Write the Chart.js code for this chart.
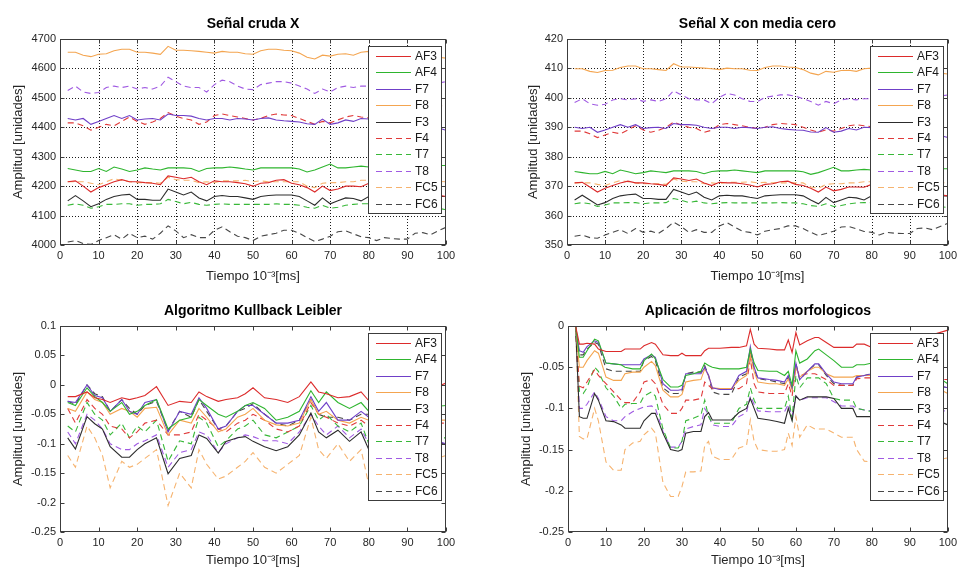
<!DOCTYPE html>
<html><head><meta charset="utf-8">
<script src="https://cdn.jsdelivr.net/npm/chart.js@4/dist/chart.umd.min.js"></script>
<style>
body{margin:0;background:#fff;width:961px;height:568px;position:relative;overflow:hidden}
canvas{position:absolute}
</style>
</head><body>
<canvas id="c1" width="480" height="284" style="left:0;top:0;width:480px;height:284px"></canvas>
<canvas id="c2" width="481" height="284" style="left:480px;top:0;width:481px;height:284px"></canvas>
<canvas id="c3" width="480" height="284" style="left:0;top:284px;width:480px;height:284px"></canvas>
<canvas id="c4" width="481" height="284" style="left:480px;top:284px;width:481px;height:284px"></canvas>
<script>
// ---------- categories / labels ----------
const channels = ['AF3','AF4','F7','F8','F3','F4','T7','T8','FC5','FC6'];
const titles = ['Señal cruda X','Señal X con media cero','Algoritmo Kullback Leibler','Aplicación de filtros morfologicos'];
const xTitle = 'Tiempo 10⁻³[ms]';
const yTitle = 'Amplitud [unidades]';
const xTicks = [0,10,20,30,40,50,60,70,80,90,100];
const yTicksRaw = [4000,4100,4200,4300,4400,4500,4600,4700];
const yTicksZero = [350,360,370,380,390,400,410,420];
const yTicksKL = [-0.25,-0.2,-0.15,-0.1,-0.05,0,0.05,0.1];
const yTicksMF = [-0.25,-0.2,-0.15,-0.1,-0.05,0];

// ---------- chart 1 : raw signal ----------
const xRaw = [2,4,6,8,10,12,14,16,18,20,22,24,26,28,30,32,34,36,38,40,42,44,46,48,50,52,54,56,58,60,62,64,66,68,70,72,74,76,78,80,82,84,86,88,90,92,94,96,98,100];
const rawAF3 = [4215,4218,4200,4180,4195,4205,4215,4222,4215,4215,4212,4210,4205,4235,4230,4225,4230,4215,4205,4218,4215,4215,4212,4208,4200,4210,4212,4220,4222,4210,4205,4195,4180,4200,4185,4190,4200,4200,4198,4210,4205,4200,4195,4190,4185,4180,4178,4175,4170,4165];
const rawAF4 = [4260,4255,4250,4250,4260,4250,4265,4258,4250,4255,4262,4258,4255,4262,4262,4262,4260,4250,4260,4262,4262,4265,4262,4258,4255,4262,4262,4262,4262,4262,4258,4248,4255,4265,4275,4262,4262,4265,4268,4265,4265,4265,4268,4268,4268,4270,4270,4270,4270,4270];
const rawF7 = [4430,4425,4430,4410,4420,4430,4440,4430,4440,4425,4428,4430,4425,4445,4440,4440,4438,4430,4425,4430,4430,4425,4430,4428,4425,4430,4432,4425,4422,4420,4418,4412,4410,4428,4410,4415,4425,4420,4430,4428,4428,4425,4425,4420,4420,4415,4410,4405,4398,4390];
const rawF8 = [4655,4655,4645,4640,4648,4650,4660,4665,4665,4655,4655,4652,4648,4675,4662,4662,4660,4658,4655,4652,4658,4655,4655,4650,4648,4660,4665,4665,4662,4660,4652,4638,4632,4645,4642,4648,4650,4645,4655,4658,4655,4650,4648,4652,4655,4650,4645,4640,4638,4635];
const rawF3 = [4150,4168,4150,4130,4140,4155,4165,4170,4172,4155,4155,4152,4152,4190,4180,4170,4180,4160,4150,4165,4168,4165,4165,4160,4155,4165,4168,4170,4170,4170,4165,4150,4135,4160,4140,4150,4160,4158,4150,4165,4165,4165,4165,4165,4165,4165,4165,4165,4165,4165];
const rawF4 = [4415,4415,4405,4390,4400,4410,4405,4420,4435,4420,4410,4418,4430,4450,4438,4430,4425,4410,4418,4440,4445,4440,4435,4430,4425,4430,4440,4445,4442,4440,4430,4420,4410,4420,4415,4425,4435,4440,4435,4432,4435,4440,4445,4450,4455,4460,4465,4470,4472,4475];
const rawT7 = [4135,4140,4135,4125,4130,4138,4138,4140,4140,4135,4138,4138,4140,4155,4148,4140,4145,4138,4135,4138,4140,4138,4138,4138,4138,4138,4138,4140,4138,4138,4135,4128,4125,4135,4125,4128,4135,4138,4140,4140,4140,4140,4138,4138,4135,4135,4132,4130,4125,4120];
const rawT8 = [4525,4540,4520,4515,4518,4535,4540,4535,4540,4530,4535,4530,4540,4570,4555,4540,4535,4535,4520,4545,4560,4555,4540,4530,4528,4545,4550,4555,4555,4550,4540,4530,4515,4530,4520,4535,4540,4535,4540,4540,4540,4535,4540,4545,4540,4535,4540,4545,4550,4555];
const rawFC5 = [4215,4215,4215,4210,4205,4215,4225,4220,4215,4212,4212,4212,4210,4230,4222,4220,4220,4212,4215,4212,4218,4218,4218,4220,4215,4218,4215,4215,4215,4215,4215,4200,4195,4210,4212,4212,4215,4215,4220,4220,4220,4218,4218,4218,4218,4218,4218,4216,4216,4215];
const rawFC6 = [4010,4015,4005,4002,4015,4025,4035,4020,4040,4025,4030,4020,4040,4065,4048,4025,4035,4025,4025,4050,4062,4045,4030,4025,4015,4030,4035,4040,4050,4050,4040,4025,4012,4020,4030,4045,4048,4038,4028,4025,4015,4025,4022,4020,4020,4040,4042,4035,4048,4060];

// ---------- chart 2 : zero mean ----------
const zmAF3 = [371.1,371.3,369.7,368.0,369.3,370.2,371.1,371.7,371.1,371.1,370.8,370.6,370.2,372.8,372.4,371.9,372.4,371.1,370.2,371.3,371.1,371.1,370.8,370.4,369.7,370.6,370.8,371.5,371.7,370.6,370.2,369.3,368.0,369.7,368.4,368.9,369.7,369.7,369.6,370.6,370.2,369.7,369.3,368.9,368.4,368.0,367.8,367.5,367.1,366.7];
const zmAF4 = [375.0,374.6,374.2,374.2,375.0,374.2,375.5,374.9,374.2,374.6,375.2,374.9,374.6,375.2,375.2,375.2,375.0,374.2,375.0,375.2,375.2,375.5,375.2,374.9,374.6,375.2,375.2,375.2,375.2,375.2,374.9,374.0,374.6,375.5,376.4,375.2,375.2,375.5,375.7,375.5,375.5,375.5,375.7,375.7,375.7,375.9,375.9,375.9,375.9,375.9];
const zmF7 = [390.0,389.6,390.0,388.3,389.1,390.0,390.9,390.0,390.9,389.6,389.9,390.0,389.6,391.3,390.9,390.9,390.7,390.0,389.6,390.0,390.0,389.6,390.0,389.9,389.6,390.0,390.2,389.6,389.3,389.1,389.0,388.4,388.3,389.9,388.3,388.7,389.6,389.1,390.0,389.9,389.9,389.6,389.6,389.1,389.1,388.7,388.3,387.8,387.2,386.5];
const zmF8 = [409.9,409.9,409.0,408.6,409.3,409.4,410.3,410.8,410.8,409.9,409.9,409.6,409.3,411.6,410.5,410.5,410.3,410.1,409.9,409.6,410.1,409.9,409.9,409.4,409.3,410.3,410.8,410.8,410.5,410.3,409.6,408.4,407.8,409.0,408.7,409.3,409.4,409.0,409.9,410.1,409.9,409.4,409.3,409.6,409.9,409.4,409.0,408.6,408.4,408.1];
const zmF3 = [365.3,366.9,365.3,363.6,364.4,365.8,366.7,367.1,367.3,365.8,365.8,365.5,365.5,368.9,368.0,367.1,368.0,366.2,365.3,366.7,366.9,366.7,366.7,366.2,365.8,366.7,366.9,367.1,367.1,367.1,366.7,365.3,364.0,366.2,364.4,365.3,366.2,366.0,365.3,366.7,366.7,366.7,366.7,366.7,366.7,366.7,366.7,366.7,366.7,366.7];
const zmF4 = [388.7,388.7,387.8,386.5,387.4,388.3,387.8,389.1,390.5,389.1,388.3,389.0,390.0,391.8,390.7,390.0,389.6,388.3,389.0,390.9,391.3,390.9,390.5,390.0,389.6,390.0,390.9,391.3,391.1,390.9,390.0,389.1,388.3,389.1,388.7,389.6,390.5,390.9,390.5,390.2,390.5,390.9,391.3,391.8,392.2,392.7,393.1,393.6,393.7,394.0];
const zmT7 = [364.0,364.4,364.0,363.1,363.6,364.3,364.3,364.4,364.4,364.0,364.3,364.3,364.4,365.8,365.2,364.4,364.9,364.3,364.0,364.3,364.4,364.3,364.3,364.3,364.3,364.3,364.3,364.4,364.3,364.3,364.0,363.4,363.1,364.0,363.1,363.4,364.0,364.3,364.4,364.4,364.4,364.4,364.3,364.3,364.0,364.0,363.7,363.6,363.1,362.7];
const zmT8 = [398.4,399.7,398.0,397.5,397.8,399.3,399.7,399.3,399.7,398.8,399.3,398.8,399.7,402.4,401.0,399.7,399.3,399.3,398.0,400.2,401.5,401.0,399.7,398.8,398.7,400.2,400.6,401.0,401.0,400.6,399.7,398.8,397.5,398.8,398.0,399.3,399.7,399.3,399.7,399.7,399.7,399.3,399.7,400.2,399.7,399.3,399.7,400.2,400.6,401.0];
const zmFC5 = [371.1,371.1,371.1,370.6,370.2,371.1,371.9,371.5,371.1,370.8,370.8,370.8,370.6,372.4,371.7,371.5,371.5,370.8,371.1,370.8,371.3,371.3,371.3,371.5,371.1,371.3,371.1,371.1,371.1,371.1,371.1,369.7,369.3,370.6,370.8,370.8,371.1,371.1,371.5,371.5,371.5,371.3,371.3,371.3,371.3,371.3,371.3,371.2,371.2,371.1];
const zmFC6 = [353.0,353.4,352.5,352.3,353.4,354.3,355.2,353.9,355.6,354.3,354.7,353.9,355.6,357.8,356.3,354.3,355.2,354.3,354.3,356.5,357.6,356.1,354.7,354.3,353.4,354.7,355.2,355.6,356.5,356.5,355.6,354.3,353.2,353.9,354.7,356.1,356.3,355.5,354.6,354.3,353.4,354.3,354.0,353.9,353.9,355.6,355.8,355.2,356.3,357.4];

// ---------- chart 3 : Kullback Leibler ----------
const xKL = [2,4,7,9,11,13,16,18,20,22,25,28,31,34,36,38,41,43,46,48,50,53,56,59,62,65,67,69,72,75,78,80,85,90,95,100];
const klAF3 = [-0.02,-0.02,-0.012,-0.022,-0.025,-0.03,-0.022,-0.025,-0.022,-0.018,-0.003,-0.035,-0.028,-0.03,-0.012,-0.02,-0.028,-0.025,-0.022,-0.015,-0.005,-0.022,-0.025,-0.03,-0.02,0.005,-0.012,-0.015,-0.022,-0.02,-0.012,-0.027,-0.02,-0.015,-0.01,0.003];
const klAF4 = [-0.03,-0.035,-0.005,-0.02,-0.03,-0.045,-0.03,-0.05,-0.045,-0.035,-0.025,-0.075,-0.06,-0.055,-0.025,-0.035,-0.05,-0.055,-0.045,-0.035,-0.03,-0.04,-0.06,-0.055,-0.045,-0.01,-0.03,-0.012,-0.03,-0.04,-0.03,-0.045,-0.04,-0.04,-0.038,-0.035];
const klF7 = [-0.028,-0.03,0.0,-0.018,-0.022,-0.045,-0.025,-0.045,-0.05,-0.03,-0.025,-0.08,-0.045,-0.05,-0.022,-0.04,-0.075,-0.07,-0.045,-0.035,-0.035,-0.05,-0.065,-0.065,-0.06,-0.02,-0.045,-0.03,-0.06,-0.06,-0.045,-0.055,-0.07,-0.08,-0.09,-0.1];
const klF8 = [-0.04,-0.045,-0.012,-0.025,-0.03,-0.05,-0.04,-0.045,-0.055,-0.04,-0.038,-0.085,-0.06,-0.065,-0.04,-0.055,-0.08,-0.075,-0.055,-0.05,-0.04,-0.06,-0.068,-0.07,-0.065,-0.025,-0.05,-0.045,-0.06,-0.065,-0.055,-0.06,-0.06,-0.06,-0.06,-0.06];
const klF3 = [-0.09,-0.109,-0.054,-0.066,-0.075,-0.105,-0.123,-0.123,-0.11,-0.1,-0.09,-0.151,-0.125,-0.12,-0.085,-0.091,-0.116,-0.096,-0.09,-0.088,-0.096,-0.105,-0.112,-0.105,-0.085,-0.048,-0.08,-0.09,-0.077,-0.096,-0.08,-0.11,-0.1,-0.1,-0.1,-0.1];
const klF4 = [-0.04,-0.065,-0.025,-0.04,-0.05,-0.07,-0.075,-0.09,-0.08,-0.065,-0.06,-0.085,-0.085,-0.08,-0.05,-0.06,-0.075,-0.08,-0.065,-0.06,-0.05,-0.06,-0.075,-0.08,-0.07,-0.03,-0.05,-0.055,-0.065,-0.07,-0.06,-0.07,-0.065,-0.065,-0.065,-0.065];
const klT7 = [-0.07,-0.08,-0.03,-0.05,-0.06,-0.085,-0.065,-0.09,-0.07,-0.08,-0.06,-0.13,-0.095,-0.1,-0.055,-0.065,-0.105,-0.095,-0.075,-0.07,-0.06,-0.085,-0.09,-0.08,-0.07,-0.035,-0.06,-0.05,-0.07,-0.08,-0.065,-0.1,-0.09,-0.09,-0.09,-0.09];
const klT8 = [-0.08,-0.1,-0.05,-0.06,-0.075,-0.1,-0.11,-0.11,-0.1,-0.095,-0.085,-0.14,-0.115,-0.11,-0.08,-0.085,-0.115,-0.1,-0.09,-0.085,-0.088,-0.095,-0.095,-0.1,-0.08,-0.05,-0.07,-0.085,-0.07,-0.09,-0.075,-0.1,-0.1,-0.1,-0.1,-0.1];
const klFC5 = [-0.12,-0.14,-0.07,-0.09,-0.12,-0.175,-0.13,-0.14,-0.135,-0.125,-0.11,-0.205,-0.15,-0.175,-0.11,-0.135,-0.16,-0.155,-0.14,-0.13,-0.115,-0.14,-0.15,-0.135,-0.12,-0.055,-0.11,-0.125,-0.1,-0.13,-0.11,-0.17,-0.15,-0.14,-0.13,-0.12];
const klFC6 = [-0.028,-0.033,0.0,-0.015,-0.02,-0.045,-0.025,-0.04,-0.05,-0.035,-0.028,-0.078,-0.045,-0.055,-0.025,-0.045,-0.075,-0.07,-0.045,-0.04,-0.032,-0.05,-0.065,-0.07,-0.06,-0.025,-0.05,-0.055,-0.055,-0.06,-0.05,-0.05,-0.05,-0.05,-0.05,-0.05];

// ---------- chart 4 : morphological filters ----------
const xMF = [2,3,4,5,7,8,10,12,14,15,17,19,20,22,23,25,27,29,30,31,33,35,36,37,38,40,43,45,47,48,49,50,53,55,57,58,59,60,61,63,65,66,68,70,72,75,76,78,80,85,90,95,100];
const mfAF3 = [0,-0.022,-0.022,-0.021,-0.022,-0.028,-0.031,-0.031,-0.031,-0.028,-0.028,-0.028,-0.024,-0.02,-0.022,-0.035,-0.036,-0.036,-0.033,-0.036,-0.036,-0.036,-0.03,-0.027,-0.027,-0.027,-0.026,-0.026,-0.024,-0.004,-0.022,-0.027,-0.028,-0.029,-0.029,-0.017,-0.032,-0.008,-0.023,-0.018,-0.014,-0.014,-0.02,-0.026,-0.026,-0.026,-0.022,-0.022,-0.026,-0.025,-0.02,-0.012,-0.005];
const mfAF4 = [0,-0.038,-0.038,-0.03,-0.016,-0.018,-0.045,-0.046,-0.047,-0.05,-0.052,-0.052,-0.042,-0.034,-0.04,-0.065,-0.074,-0.074,-0.072,-0.06,-0.058,-0.055,-0.045,-0.048,-0.05,-0.052,-0.052,-0.052,-0.05,-0.028,-0.045,-0.054,-0.055,-0.055,-0.06,-0.055,-0.072,-0.03,-0.045,-0.04,-0.03,-0.028,-0.035,-0.042,-0.05,-0.05,-0.047,-0.047,-0.045,-0.047,-0.05,-0.055,-0.07];
const mfF7 = [0,-0.03,-0.032,-0.025,-0.018,-0.02,-0.045,-0.046,-0.047,-0.047,-0.047,-0.047,-0.04,-0.035,-0.038,-0.07,-0.078,-0.078,-0.077,-0.058,-0.058,-0.058,-0.05,-0.06,-0.075,-0.077,-0.077,-0.06,-0.055,-0.025,-0.05,-0.063,-0.065,-0.066,-0.068,-0.06,-0.075,-0.045,-0.065,-0.055,-0.046,-0.046,-0.058,-0.068,-0.07,-0.07,-0.062,-0.06,-0.058,-0.06,-0.065,-0.07,-0.075];
const mfF8 = [0,-0.05,-0.05,-0.042,-0.03,-0.033,-0.062,-0.066,-0.066,-0.058,-0.056,-0.056,-0.05,-0.043,-0.048,-0.078,-0.086,-0.086,-0.083,-0.068,-0.066,-0.065,-0.052,-0.06,-0.075,-0.076,-0.076,-0.066,-0.06,-0.035,-0.055,-0.068,-0.07,-0.07,-0.072,-0.064,-0.078,-0.05,-0.062,-0.055,-0.05,-0.05,-0.058,-0.062,-0.062,-0.062,-0.06,-0.06,-0.06,-0.062,-0.065,-0.07,-0.082];
const mfF3 = [0,-0.11,-0.112,-0.112,-0.082,-0.09,-0.115,-0.116,-0.12,-0.124,-0.124,-0.124,-0.115,-0.106,-0.106,-0.13,-0.15,-0.152,-0.15,-0.13,-0.128,-0.128,-0.11,-0.105,-0.114,-0.114,-0.114,-0.105,-0.1,-0.088,-0.1,-0.112,-0.114,-0.116,-0.118,-0.1,-0.115,-0.085,-0.09,-0.086,-0.086,-0.086,-0.086,-0.088,-0.1,-0.1,-0.11,-0.11,-0.11,-0.11,-0.11,-0.11,-0.12];
const mfF4 = [0,-0.073,-0.075,-0.068,-0.053,-0.06,-0.07,-0.08,-0.09,-0.093,-0.093,-0.08,-0.068,-0.065,-0.07,-0.095,-0.106,-0.106,-0.1,-0.09,-0.09,-0.088,-0.068,-0.072,-0.076,-0.076,-0.076,-0.076,-0.07,-0.04,-0.07,-0.08,-0.082,-0.082,-0.082,-0.07,-0.085,-0.05,-0.06,-0.058,-0.058,-0.06,-0.065,-0.072,-0.072,-0.072,-0.064,-0.063,-0.063,-0.065,-0.065,-0.065,-0.065];
const mfT7 = [0,-0.08,-0.082,-0.075,-0.05,-0.055,-0.075,-0.085,-0.1,-0.095,-0.094,-0.094,-0.085,-0.08,-0.085,-0.125,-0.148,-0.148,-0.14,-0.115,-0.112,-0.108,-0.09,-0.11,-0.118,-0.118,-0.118,-0.1,-0.095,-0.075,-0.09,-0.1,-0.1,-0.1,-0.1,-0.085,-0.112,-0.06,-0.075,-0.063,-0.063,-0.063,-0.07,-0.088,-0.09,-0.09,-0.1,-0.102,-0.104,-0.1,-0.1,-0.1,-0.1];
const mfT8 = [0,-0.1,-0.1,-0.095,-0.08,-0.088,-0.11,-0.115,-0.115,-0.11,-0.104,-0.1,-0.098,-0.097,-0.1,-0.128,-0.147,-0.147,-0.14,-0.125,-0.122,-0.12,-0.1,-0.108,-0.12,-0.122,-0.122,-0.11,-0.105,-0.085,-0.095,-0.103,-0.104,-0.104,-0.104,-0.095,-0.11,-0.085,-0.09,-0.087,-0.087,-0.087,-0.087,-0.092,-0.097,-0.097,-0.1,-0.102,-0.103,-0.103,-0.103,-0.103,-0.103];
const mfFC5 = [0,-0.134,-0.137,-0.137,-0.1,-0.115,-0.165,-0.175,-0.175,-0.15,-0.142,-0.14,-0.132,-0.124,-0.13,-0.19,-0.207,-0.207,-0.195,-0.177,-0.177,-0.176,-0.145,-0.14,-0.158,-0.162,-0.162,-0.148,-0.145,-0.114,-0.14,-0.15,-0.152,-0.152,-0.15,-0.13,-0.145,-0.11,-0.135,-0.12,-0.125,-0.125,-0.125,-0.13,-0.135,-0.135,-0.15,-0.164,-0.165,-0.165,-0.165,-0.165,-0.16];
const mfFC6 = [0,-0.035,-0.035,-0.028,-0.02,-0.022,-0.052,-0.055,-0.055,-0.055,-0.055,-0.055,-0.042,-0.037,-0.042,-0.075,-0.082,-0.082,-0.08,-0.058,-0.056,-0.056,-0.048,-0.06,-0.08,-0.083,-0.083,-0.062,-0.058,-0.03,-0.052,-0.064,-0.066,-0.068,-0.07,-0.062,-0.075,-0.045,-0.065,-0.055,-0.047,-0.047,-0.06,-0.07,-0.072,-0.072,-0.062,-0.06,-0.058,-0.06,-0.065,-0.07,-0.075];

// ---------- styles ----------
const lineColors = ['#dc2b2b','#2eb52e','#6f3fc8','#f4a550','#2c2c2c','#e03a3a','#38b838','#a05ae2','#f6b36f','#474747'];
const lineDashed = [false,false,false,false,false,true,true,true,true,true];
const FONT = '"Liberation Sans", Arial, sans-serif';

const matlabPlugin = {
  id: 'matlab',
  beforeDatasetsDraw(chart, args, o) {
    const {ctx, chartArea: a, scales: {x, y}} = chart;
    if (!o.grid) return;
    ctx.save();
    ctx.strokeStyle = '#1a1a1a'; ctx.lineWidth = 1; ctx.setLineDash([1, 2]);
    ctx.beginPath();
    x.ticks.forEach(t => {
      const px = Math.round(x.getPixelForValue(t.value)) + 0.5;
      if (px > a.left + 2 && px < a.right - 2) { ctx.moveTo(px, a.top); ctx.lineTo(px, a.bottom); }
    });
    y.ticks.forEach(t => {
      const py = Math.round(y.getPixelForValue(t.value)) + 0.5;
      if (py > a.top + 2 && py < a.bottom - 2) { ctx.moveTo(a.left, py); ctx.lineTo(a.right, py); }
    });
    ctx.stroke();
    ctx.restore();
  },
  afterDatasetsDraw(chart, args, o) {
    const {ctx, chartArea: a, scales: {x, y}} = chart;
    ctx.save();
    ctx.setLineDash([]);
    ctx.lineWidth = 1;
    ctx.strokeStyle = '#3c3c3c';
    const L = Math.round(a.left) + 0.5, R = Math.round(a.right) - 0.5, T = Math.round(a.top) + 0.5, B = Math.round(a.bottom) - 0.5;
    ctx.strokeRect(L, T, R - L, B - T);
    ctx.beginPath();
    x.ticks.forEach(t => {
      const px = Math.round(x.getPixelForValue(t.value)) + 0.5;
      ctx.moveTo(px, B); ctx.lineTo(px, B - 4);
      ctx.moveTo(px, T); ctx.lineTo(px, T + 4);
    });
    y.ticks.forEach(t => {
      const py = Math.round(y.getPixelForValue(t.value)) + 0.5;
      ctx.moveTo(L, py); ctx.lineTo(L + 4, py);
      ctx.moveTo(R, py); ctx.lineTo(R - 4, py);
    });
    ctx.stroke();
    // title
    ctx.fillStyle = '#000';
    ctx.font = 'bold 14px ' + FONT;
    ctx.textAlign = 'center'; ctx.textBaseline = 'middle';
    ctx.fillText(o.title, (a.left + a.right) / 2, a.top - 15);
    // legend inside the axes
    const ds = chart.data.datasets;
    const w = 73, step = 16.4, h = Math.round(10 + step * (ds.length - 1) + 9);
    const bx = Math.round(a.right - 5 - w), by = Math.round(a.top + 7);
    ctx.fillStyle = '#fff';
    ctx.fillRect(bx, by, w, h);
    ctx.strokeStyle = '#3c3c3c';
    ctx.strokeRect(bx + 0.5, by + 0.5, w, h);
    ctx.font = '12px ' + FONT;
    ctx.textAlign = 'left';
    ds.forEach((d, i) => {
      const yy = Math.round(by + 10 + step * i) + 0.5;
      ctx.save();
      ctx.strokeStyle = d.borderColor;
      ctx.lineWidth = 1.2;
      ctx.setLineDash(d.borderDash && d.borderDash.length ? d.borderDash : []);
      ctx.beginPath(); ctx.moveTo(bx + 8, yy); ctx.lineTo(bx + 43, yy); ctx.stroke();
      ctx.restore();
      ctx.fillStyle = '#1a1a1a';
      ctx.fillText(d.label, bx + 47, yy);
    });
    ctx.restore();
  }
};

function makeChart(id, xs, series, yMin, yMax, yTicks, opts) {
  const datasets = series.map((arr, i) => ({
    label: channels[i],
    data: arr.map((v, j) => ({x: xs[j], y: v})),
    borderColor: lineColors[i],
    borderWidth: 1.1,
    borderDash: lineDashed[i] ? [6, 4] : [],
    pointRadius: 0,
    fill: false,
    tension: 0
  }));
  const tickFont = {family: FONT, size: 11};
  const titleFont = {family: FONT, size: 13};
  return new Chart(document.getElementById(id), {
    type: 'line',
    data: {datasets},
    options: {
      responsive: false, animation: false, devicePixelRatio: 1,
      layout: {padding: {left: opts.padL, right: opts.padR, top: opts.padT, bottom: 0}, autoPadding: false},
      plugins: {legend: {display: false}, tooltip: {enabled: false}, matlab: {grid: opts.grid, title: opts.title}},
      scales: {
        x: {
          type: 'linear', min: 0, max: 100,
          afterBuildTicks: s => { s.ticks = xTicks.map(v => ({value: v})); },
          afterFit: s => { s.height = opts.xH; },
          grid: {display: false, drawTicks: false}, border: {display: false},
          ticks: {font: tickFont, color: '#262626', padding: 4, maxRotation: 0, autoSkip: false, callback: v => String(v)},
          title: {display: true, text: xTitle, font: titleFont, color: '#262626', padding: 0}
        },
        y: {
          type: 'linear', min: yMin, max: yMax,
          afterBuildTicks: s => { s.ticks = yTicks.map(v => ({value: v})); },
          afterFit: s => { s.width = opts.yW; },
          grid: {display: false, drawTicks: false}, border: {display: false},
          ticks: {font: tickFont, color: '#262626', padding: 4, autoSkip: false, callback: v => String(v)},
          title: {display: true, text: yTitle, font: titleFont, color: '#262626', padding: 0}
        }
      }
    },
    plugins: [matlabPlugin]
  });
}

makeChart('c1', xRaw, [rawAF3, rawAF4, rawF7, rawF8, rawF3, rawF4, rawT7, rawT8, rawFC5, rawFC6], 4000, 4700, yTicksRaw,
  {padL: 11, yW: 49, padR: 34, padT: 39, xH: 39, grid: true, title: titles[0]});
makeChart('c2', xRaw, [zmAF3, zmAF4, zmF7, zmF8, zmF3, zmF4, zmT7, zmT8, zmFC5, zmFC6], 350, 420, yTicksZero,
  {padL: 46, yW: 41, padR: 7, padT: 39, xH: 39, grid: true, title: titles[1]});
makeChart('c3', xKL, [klAF3, klAF4, klF7, klF8, klF3, klF4, klT7, klT8, klFC5, klFC6], -0.25, 0.1, yTicksKL,
  {padL: 11, yW: 49, padR: 34, padT: 42, xH: 36, grid: false, title: titles[2]});
makeChart('c4', xMF, [mfAF3, mfAF4, mfF7, mfF8, mfF3, mfF4, mfT7, mfT8, mfFC5, mfFC6], -0.25, 0, yTicksMF,
  {padL: 39, yW: 49, padR: 8, padT: 42, xH: 36, grid: false, title: titles[3]});
</script>
</body></html>
